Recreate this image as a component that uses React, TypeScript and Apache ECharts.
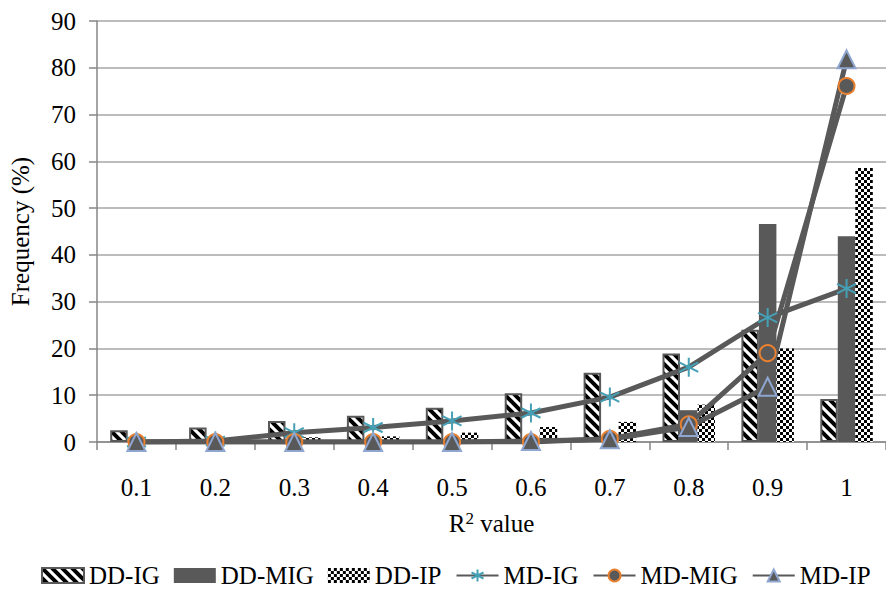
import React, { useEffect, useRef } from "react";
import * as echarts from "echarts";

const categories = ["0.1", "0.2", "0.3", "0.4", "0.5", "0.6", "0.7", "0.8", "0.9", "1"];
const ddIG = [2.5, 3.1, 4.5, 5.6, 7.3, 10.4, 14.8, 18.9, 24.0, 9.2];
const ddMIG = [0, 0, 0.3, 0.2, 0.2, 0.3, 0.6, 6.8, 46.6, 44.0];
const ddIP = [0, 0, 1.0, 1.2, 2.0, 3.2, 4.3, 8.0, 20.0, 58.6];
const mdIG = [0, 0.2, 2.0, 3.1, 4.5, 6.2, 9.6, 16.0, 26.6, 32.8];
const mdMIG = [0, 0, 0, 0, 0, 0, 0.7, 3.8, 19.0, 76.1];
const mdIP = [0, 0, 0, 0, 0, 0.2, 0.6, 3.2, 11.8, 81.8];
const yTicks = { min: 0, max: 90, interval: 10 };

const FONT = "Liberation Serif";
const DARK = "#595959";

function stripePattern() {
  const T = 10;
  const c = document.createElement("canvas");
  c.width = T;
  c.height = T;
  const ctx = c.getContext("2d")!;
  ctx.fillStyle = "#ffffff";
  ctx.fillRect(0, 0, T, T);
  ctx.strokeStyle = "#000000";
  ctx.lineWidth = 4;
  ctx.beginPath();
  ctx.moveTo(-3, -3);
  ctx.lineTo(T + 3, T + 3);
  ctx.moveTo(-3, T - 3);
  ctx.lineTo(3, T + 3);
  ctx.moveTo(T - 3, -3);
  ctx.lineTo(T + 3, 3);
  ctx.stroke();
  return { image: c, repeat: "repeat", imageWidth: T, imageHeight: T } as any;
}

function checkerPattern() {
  const s = 3;
  const c = document.createElement("canvas");
  c.width = 2 * s;
  c.height = 2 * s;
  const ctx = c.getContext("2d")!;
  ctx.fillStyle = "#ffffff";
  ctx.fillRect(0, 0, 2 * s, 2 * s);
  ctx.fillStyle = "#000000";
  ctx.fillRect(0, 0, s, s);
  ctx.fillRect(s, s, s, s);
  return { image: c, repeat: "repeat", imageWidth: 2 * s, imageHeight: 2 * s } as any;
}

const asterisk = "path://M12,0L12,24M1.6,6L22.4,18M1.6,18L22.4,6";

export default function App() {
  const ref = useRef<HTMLDivElement>(null);
  useEffect(() => {
    if (!ref.current) return;
    const chart = echarts.init(ref.current, null, { renderer: "svg" });
    const lineBase = {
      type: "line" as const,
      lineStyle: { color: DARK, width: 5 },
      z: 3,
    };
    chart.setOption({
      animation: false,
      backgroundColor: "#ffffff",
      textStyle: { fontFamily: FONT, color: "#000" },
      grid: { left: 97, top: 21, width: 798, height: 421 },
      legend: {
        bottom: 3,
        left: 36,
        itemWidth: 42,
        itemHeight: 15,
        itemGap: 14,
        textStyle: { fontFamily: FONT, fontSize: 25, color: "#000" },
        data: [
          { name: "DD-IG", icon: "rect" },
          { name: "DD-MIG", icon: "rect" },
          { name: "DD-IP", icon: "rect" },
          { name: "MD-IG" },
          { name: "MD-MIG" },
          { name: "MD-IP" },
        ],
      },
      xAxis: {
        type: "category",
        data: categories,
        name: "{a|R}{b|2}{a| value}",
        nameLocation: "middle",
        nameGap: 68,
        nameTextStyle: {
          fontFamily: FONT,
          color: "#000",
          rich: {
            a: { fontFamily: FONT, fontSize: 25, color: "#000", lineHeight: 26 },
            b: { fontFamily: FONT, fontSize: 17, color: "#000", verticalAlign: "top", lineHeight: 26 },
          },
        },
        axisLine: { lineStyle: { color: "#868686", width: 1.5 } },
        axisTick: { show: true, length: 8, lineStyle: { color: "#868686", width: 1.5 } },
        axisLabel: { fontFamily: FONT, fontSize: 25, color: "#000", margin: 33 },
      },
      yAxis: {
        type: "value",
        min: yTicks.min,
        max: yTicks.max,
        interval: yTicks.interval,
        name: "Frequency (%)",
        nameLocation: "middle",
        nameGap: 64,
        nameTextStyle: { fontFamily: FONT, fontSize: 25, color: "#000" },
        axisLine: { show: true, lineStyle: { color: "#868686", width: 1.5 } },
        axisTick: { show: true, length: 8, lineStyle: { color: "#868686", width: 1.5 } },
        axisLabel: { fontFamily: FONT, fontSize: 25, color: "#000", margin: 21 },
        splitLine: { lineStyle: { color: "#a6a6a6", width: 1.5 } },
      },
      series: [
        {
          name: "DD-IG",
          type: "bar",
          data: ddIG,
          barWidth: 17.5,
          barGap: "0%",
          itemStyle: { color: stripePattern(), borderColor: DARK, borderWidth: 2 },
        },
        {
          name: "DD-MIG",
          type: "bar",
          data: ddMIG,
          barWidth: 17.5,
          barGap: "0%",
          itemStyle: { color: DARK },
        },
        {
          name: "DD-IP",
          type: "bar",
          data: ddIP,
          barWidth: 17.5,
          barGap: "0%",
          itemStyle: { color: checkerPattern() },
        },
        {
          ...lineBase,
          name: "MD-IG",
          data: mdIG,
          symbol: asterisk,
          symbolSize: 19,
          itemStyle: { color: "#46a0b5", borderColor: "#46a0b5", borderWidth: 2 },
        },
        {
          ...lineBase,
          name: "MD-MIG",
          data: mdMIG,
          symbol: "circle",
          symbolSize: 16,
          itemStyle: { color: DARK, borderColor: "#e9802f", borderWidth: 2 },
        },
        {
          ...lineBase,
          name: "MD-IP",
          data: mdIP,
          symbol: "triangle",
          symbolSize: 18,
          itemStyle: { color: DARK, borderColor: "#8ea6d0", borderWidth: 2 },
        },
      ],
    });
    return () => chart.dispose();
  }, []);
  return (
    <div
      ref={ref}
      style={{ position: "fixed", left: 0, top: 0, width: 886, height: 596, background: "#fff" }}
    />
  );
}
